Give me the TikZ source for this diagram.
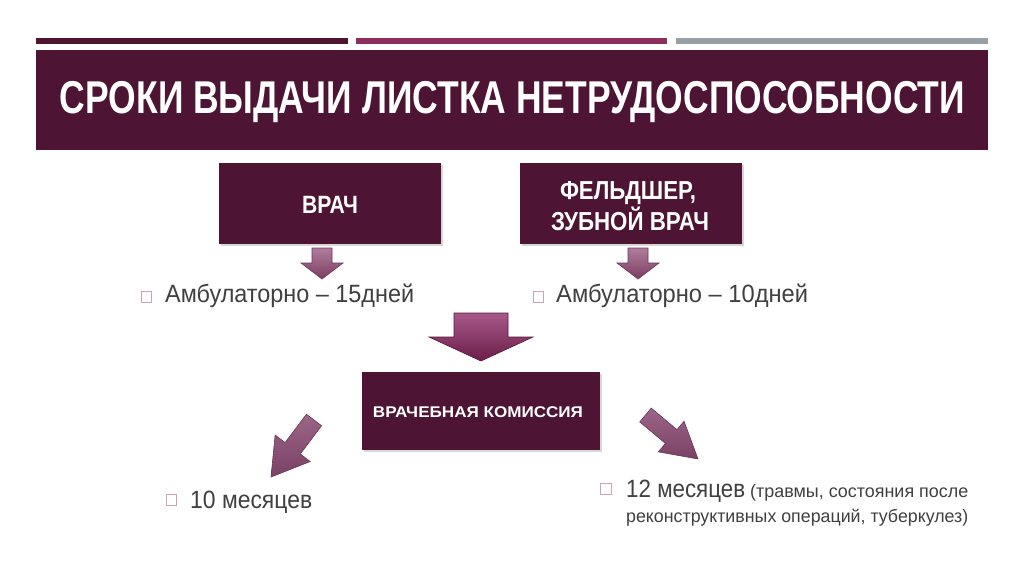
\documentclass[tikz,border=0pt]{standalone}
\usepackage{fontspec}
\setmainfont{Liberation Sans}
\usetikzlibrary{calc}
\newcommand\fitx[2]{\resizebox{#1}{\height}{#2}}
\newcommand\blockarr[6]{%
  \coordinate (#1-neck) at ($(#1-tip)!#5!(#1-tail)$);
  \path[#6] ($(#1-tail)!#3!90:(#1-tip)$) -- ($(#1-neck)!#3!90:(#1-tip)$) --
    ($(#1-neck)!#4!90:(#1-tip)$) -- (#1-tip) -- ($(#1-neck)!#4!-90:(#1-tip)$) --
    ($(#1-neck)!#3!-90:(#1-tip)$) -- ($(#1-tail)!#3!-90:(#1-tip)$) -- cycle;}
\definecolor{maroon}{HTML}{4D1533}
\definecolor{barA}{HTML}{4E1530}
\definecolor{barB}{HTML}{8E2E5E}
\definecolor{barC}{HTML}{98A0A6}
\definecolor{txt}{HTML}{404040}
\definecolor{chk}{HTML}{C9A3B8}
\tikzset{
  darkbox/.style={fill=maroon, draw=none, inner sep=0pt, text=white, font=\bfseries},
  shadowbox/.style={fill=black!35, opacity=0.45},
  bodytext/.style={anchor=base west, text=txt, inner sep=0pt, font=\fontsize{25}{30}\selectfont},
  chkbox/.style={draw=chk, line width=0.8pt, fill=white},
  smallarr/.style={top color=HTML-ABAD, bottom color=HTML-7B3E, draw=HTML-6E34, line width=0.6pt},
}
\definecolor{HTML-ABAD}{HTML}{B07D9B}
\definecolor{HTML-7B3E}{HTML}{7B3E63}
\definecolor{HTML-6E34}{HTML}{6E3456}
\definecolor{bigtop}{HTML}{A8588A}
\definecolor{bigbot}{HTML}{6A1E48}
\definecolor{diagtop}{HTML}{9C6688}
\definecolor{diagbot}{HTML}{7A4164}
\begin{document}
\begin{tikzpicture}[x=1pt,y=-1pt]
\useasboundingbox[fill=white] (0,0) rectangle (1024,574);
% top bars
\fill[barA] (36,38) rectangle (348,44);
\fill[barB] (356,38) rectangle (667,44);
\fill[barC] (676,38) rectangle (988,44);
% title
\fill[maroon] (36,50) rectangle (988,150);
\node[anchor=base, text=white, inner sep=0pt, font=\fontsize{46}{50}\selectfont\bfseries] (title) at (512.5,113)
  {\fitx{905pt}{СРОКИ ВЫДАЧИ ЛИСТКА НЕТРУДОСПОСОБНОСТИ}};
% boxes
\fill[shadowbox] (221,165) rectangle (443,246);
\fill[maroon] (219,163) rectangle (441,244);
\node[anchor=base, text=white, inner sep=0pt, font=\fontsize{25}{30}\selectfont\bfseries] (vrach) at (330,213) {\fitx{56pt}{ВРАЧ}};
\fill[shadowbox] (522,165) rectangle (744,246);
\fill[maroon] (520,163) rectangle (742,244);
\node[anchor=base, text=white, inner sep=0pt, font=\fontsize{26}{30}\selectfont\bfseries] (feld1) at (628,199) {\fitx{136pt}{ФЕЛЬДШЕР,}};
\node[anchor=base, text=white, inner sep=0pt, font=\fontsize{26}{30}\selectfont\bfseries] (feld2) at (630,230) {\fitx{158pt}{ЗУБНОЙ ВРАЧ}};
\fill[shadowbox] (364,374) rectangle (602,452);
\fill[maroon] (362,372) rectangle (600,450);
\node[anchor=base, text=white, inner sep=0pt, font=\fontsize{15.5}{18}\selectfont\bfseries] (vk) at (478,417) {\fitx{210pt}{ВРАЧЕБНАЯ КОМИССИЯ}};
% small arrows
\coordinate (sa-tail) at (322,248); \coordinate (sa-tip) at (322,279);
\blockarr{sa}{16pt}{10pt}{21pt}{16pt}{smallarr}
\coordinate (sb-tail) at (638,248); \coordinate (sb-tip) at (638,279);
\blockarr{sb}{16pt}{10pt}{21pt}{16pt}{smallarr}
% big arrow
\coordinate (ba-tail) at (481,313); \coordinate (ba-tip) at (481,361);
\blockarr{ba}{24pt}{27pt}{52pt}{24pt}{top color=bigtop, bottom color=bigbot, draw=bigbot!80!black, line width=0.6pt}
% diagonal arrows
\coordinate (la-tail) at (314,420); \coordinate (la-tip) at (271,477);
\blockarr{la}{36pt}{9.5pt}{22pt}{36pt}{top color=diagtop, bottom color=diagbot, draw=diagbot!85!black, line width=0.6pt}
\coordinate (ra-tail) at (645.5,415); \coordinate (ra-tip) at (698,459);
\blockarr{ra}{35pt}{9pt}{20pt}{35pt}{top color=diagtop, bottom color=diagbot, draw=diagbot!85!black, line width=0.6pt}
% body texts
\draw[chkbox] (141,291) rectangle (151,302);
\node[bodytext] (amb1) at (165,302) {\fitx{249pt}{Амбулаторно – 15дней}};
\draw[chkbox] (533,291) rectangle (543,302);
\node[bodytext] (amb2) at (556,302) {\fitx{252pt}{Амбулаторно – 10дней}};
\draw[chkbox] (166,494) rectangle (176,505);
\node[bodytext] (m10) at (190,508) {\fitx{122pt}{10 месяцев}};
\draw[chkbox] (600,483) rectangle (611,494);
\node[bodytext] (m12) at (626,497) {\fitx{119pt}{12 месяцев}};
\node[bodytext, font=\fontsize{18}{22}\selectfont] (m12b) at (750,497) {\fitx{218pt}{(травмы, состояния после}};
\node[bodytext, font=\fontsize{18}{22}\selectfont] (m12c) at (626,522) {\fitx{342pt}{реконструктивных операций, туберкулез)}};
\end{tikzpicture}
\end{document}
